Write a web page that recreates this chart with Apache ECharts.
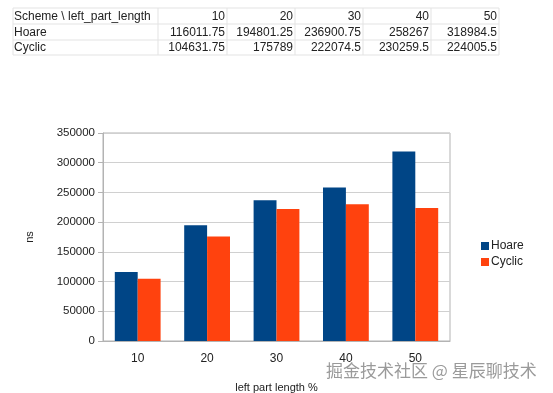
<!DOCTYPE html>
<html><head><meta charset="utf-8">
<script src="https://cdn.jsdelivr.net/npm/echarts@6/dist/echarts.min.js"></script>
<style>html,body{margin:0;padding:0;background:#fff;}#c{width:553px;height:393px;}</style>
</head><body><div id="c"></div>
<script>
var categories = ['10', '20', '30', '40', '50'];
var hoare = [116011.75, 194801.25, 236900.75, 258267, 318984.5];
var cyclic = [104631.75, 175789, 222074.5, 230259.5, 224005.5];
var hoareText = ['116011.75', '194801.25', '236900.75', '258267', '318984.5'];
var cyclicText = ['104631.75', '175789', '222074.5', '230259.5', '224005.5'];
var tableHeader = 'Scheme \\ left_part_length';
var yTicks = [0, 50000, 100000, 150000, 200000, 250000, 300000, 350000];

var FONT = 'Liberation Sans, Arial, sans-serif';
var chart = echarts.init(document.getElementById('c'));

var graphics = [];
var colEdges = [13, 158, 227, 295, 363, 431, 499];
var rowEdges = [8, 24, 40, 55];
var rows = [[tableHeader].concat(categories), ['Hoare'].concat(hoareText), ['Cyclic'].concat(cyclicText)];
for (var r = 0; r < rowEdges.length; r++) {
  graphics.push({type: 'line', shape: {x1: colEdges[0], y1: rowEdges[r], x2: colEdges[6], y2: rowEdges[r]}, style: {stroke: '#e3e3e3', lineWidth: 1}});
}
for (var c = 0; c < colEdges.length; c++) {
  graphics.push({type: 'line', shape: {x1: colEdges[c], y1: rowEdges[0], x2: colEdges[c], y2: rowEdges[3]}, style: {stroke: '#e3e3e3', lineWidth: 1}});
}
rows.forEach(function (row, ri) {
  var cy = (rowEdges[ri] + rowEdges[ri + 1]) / 2 + 0.5;
  row.forEach(function (txt, ci) {
    var left = ci === 0;
    graphics.push({type: 'text', x: left ? colEdges[0] + 1 : colEdges[ci + 1] - 2, y: cy,
      style: {text: txt, font: '12px ' + FONT, fill: '#222', align: left ? 'left' : 'right', verticalAlign: 'middle'}});
  });
});
graphics.push({type: 'text', x: 326, y: 371, style: {text: '掘金技术社区 @ 星辰聊技术', font: '17px "Noto Sans CJK SC", sans-serif', fill: 'rgba(120,120,120,0.75)', verticalAlign: 'middle'}});

chart.setOption({
  animation: false,
  color: ['#004586', '#ff420e'],
  grid: {left: 103, right: 103, top: 133, bottom: 52, show: true, borderColor: '#b3b3b3', borderWidth: 1, outerBoundsMode: 'none', containLabel: false},
  legend: {orient: 'vertical', left: 476, top: 235, itemWidth: 8, itemHeight: 8, itemGap: 4, icon: 'rect',
    textStyle: {fontFamily: FONT, fontSize: 12, color: '#222', padding: [0, 0, 0, -3]}, data: ['Hoare', 'Cyclic']},
  xAxis: {type: 'category', data: categories, name: 'left part length %', nameLocation: 'middle', nameGap: 41,
    nameTextStyle: {fontFamily: FONT, fontSize: 11, color: '#222'},
    axisLine: {lineStyle: {color: '#b3b3b3'}}, axisTick: {length: 5, lineStyle: {color: '#b3b3b3'}},
    axisLabel: {fontFamily: FONT, fontSize: 12, color: '#222', margin: 12}},
  yAxis: {type: 'value', min: yTicks[0], max: yTicks[yTicks.length - 1], interval: 50000, name: 'ns', nameLocation: 'middle', nameGap: 68,
    nameTextStyle: {fontFamily: FONT, fontSize: 11, color: '#222'},
    axisLine: {show: true, lineStyle: {color: '#b3b3b3'}}, axisTick: {show: true, length: 5, lineStyle: {color: '#b3b3b3'}},
    splitLine: {lineStyle: {color: '#d0d0d0'}},
    axisLabel: {fontFamily: FONT, fontSize: 11.5, color: '#222', margin: 8, formatter: function (v) { return String(v); }}},
  series: [
    {name: 'Hoare', type: 'bar', data: hoare, barGap: '0%', barCategoryGap: '34%'},
    {name: 'Cyclic', type: 'bar', data: cyclic, barGap: '0%', barCategoryGap: '34%'}
  ],
  graphic: graphics
});
</script></body></html>
